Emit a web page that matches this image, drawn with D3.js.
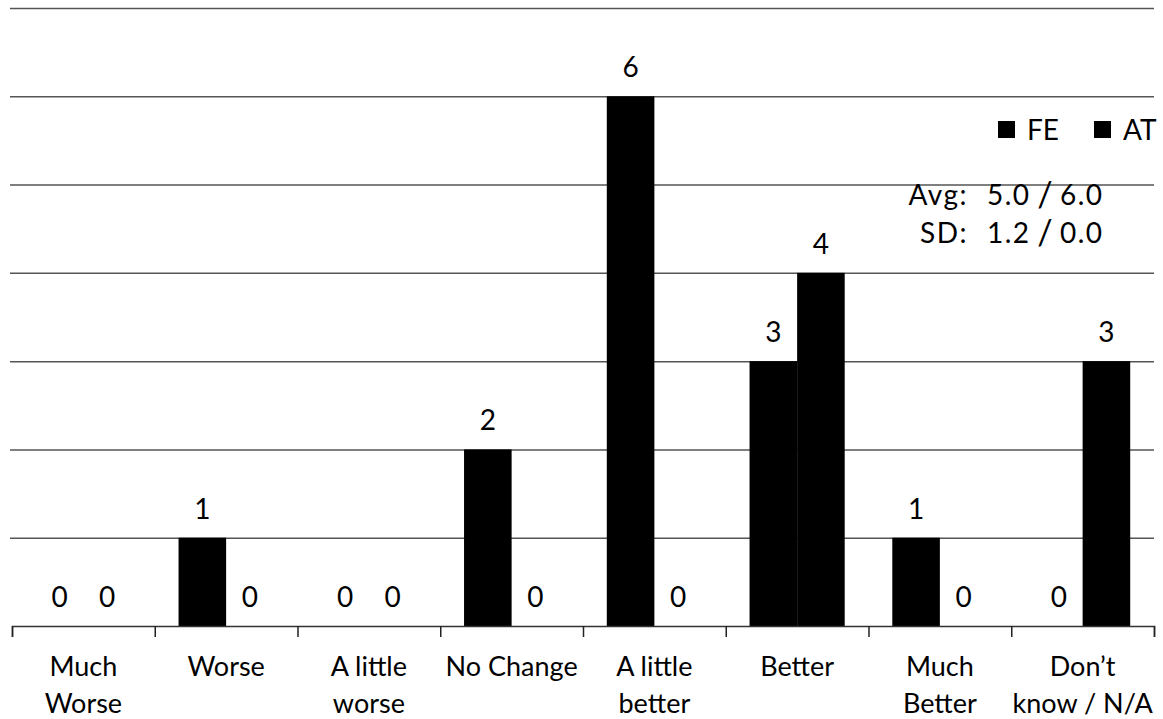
<!DOCTYPE html>
<html>
<head>
<meta charset="utf-8">
<script src="https://cdn.jsdelivr.net/npm/d3@7"></script>
<style>
	body { margin: 0; background: #fff; }
	text { font-family: Lato, "Open Sans", sans-serif; fill: #000; }
</style>
</head>
<body>
<div id="chart"></div>
<script>

// data
const categories = ['Much\nWorse', 'Worse', 'A little\nworse', 'No Change', 'A little\nbetter', 'Better', 'Much\nBetter', 'Don\u2019t\nknow / N/A'];
const series = ['FE', 'AT'];
const feValues = [0, 1, 0, 2, 6, 3, 1, 0];
const atValues = [0, 0, 0, 0, 0, 4, 0, 3];
const avgLabels = ['5.0', '6.0'];
const sdLabels = ['1.2', '0.0'];
const yTicks = [1, 2, 3, 4, 5, 6, 7];

const chartWidth = 1163;
const chartHeight = 719;
const plotLeft = 12;
const plotRight = 1154;
const plotTop = 8;
const plotBottom = 626;

const svg = d3.select('#chart')
	.append('svg')
		.attr('width', chartWidth)
		.attr('height', chartHeight);

// scales
const x0 = d3.scaleBand()
	.domain(categories)
	.range([plotLeft, plotRight])
	.padding(0);

const x1 = d3.scaleBand()
	.domain(series)
	.range([0, x0.bandwidth()])
	.paddingInner(0)
	.paddingOuter(0.5);

const y = d3.scaleLinear()
	.domain([0, 7])
	.range([plotBottom, plotTop]);

const xEdge = d3.scaleLinear()
	.domain([0, categories.length])
	.range([plotLeft, plotRight]);

// gridlines
const grid = svg.append('g')
	.attr('class', 'grid')
	.attr('transform', `translate(${plotRight}, 0)`)
	.call(d3.axisLeft(y)
		.tickValues(yTicks)
		.tickSize(plotRight - 10)
		.tickFormat(''));
grid.select('.domain').remove();
grid.selectAll('.tick line')
	.attr('stroke', '#555')
	.attr('stroke-width', 1.5);

// bars
const rows = categories.map((c, i) => ({ cat: c, values: [
	{ key: 'FE', value: feValues[i] },
	{ key: 'AT', value: atValues[i] }
] }));

const groups = svg.append('g')
	.selectAll('g')
	.data(rows)
	.join('g')
		.attr('transform', d => `translate(${x0(d.cat)}, 0)`);

groups.selectAll('rect')
	.data(d => d.values)
	.join('rect')
		.attr('x', d => x1(d.key))
		.attr('y', d => y(d.value))
		.attr('width', x1.bandwidth())
		.attr('height', d => y(0) - y(d.value))
		.attr('fill', '#000');

groups.selectAll('text')
	.data(d => d.values)
	.join('text')
		.attr('x', d => x1(d.key) + x1.bandwidth() / 2)
		.attr('y', d => y(d.value) - 19)
		.attr('text-anchor', 'middle')
		.attr('font-size', 28)
		.text(d => d.value);

// x axis with ticks at the category edges
const xAxis = svg.append('g')
	.attr('transform', `translate(0, ${plotBottom})`)
	.call(d3.axisBottom(xEdge)
		.tickValues(d3.range(categories.length + 1))
		.tickSizeOuter(0)
		.tickSize(11)
		.tickFormat(''));
xAxis.select('.domain').attr('stroke', '#333').attr('stroke-width', 1.5);
xAxis.selectAll('.tick line').attr('stroke', '#222').attr('stroke-width', 1.5);

// category labels
const labels = svg.append('g')
	.attr('transform', `translate(0, ${plotBottom})`)
	.call(d3.axisBottom(x0).tickSize(0).tickFormat(''));
labels.select('.domain').remove();

labels.selectAll('.tick')
	.append('text')
		.attr('text-anchor', 'middle')
		.attr('font-size', 27)
		.selectAll('tspan')
		.data(d => d.split('\n'))
		.join('tspan')
			.attr('x', 0)
			.attr('y', (d, i) => 50 + i * 37)
			.text(d => d);

// legend
const legend = svg.append('g');
const legendX = [998, 1094];
series.forEach((s, i) => {
	legend.append('rect')
		.attr('x', legendX[i])
		.attr('y', 121)
		.attr('width', 17)
		.attr('height', 17)
		.attr('fill', '#000');
	legend.append('text')
		.attr('x', legendX[i] + 29)
		.attr('y', 140)
		.attr('font-size', 28)
		.text(s);
});

// stats
const stats = [['Avg:', avgLabels, 205], ['SD:', sdLabels, 243]];
stats.forEach(([name, vals, yy]) => {
	svg.append('text')
		.attr('x', 968)
		.attr('y', yy)
		.attr('text-anchor', 'end')
		.attr('font-size', 28)
		.attr('letter-spacing', 1.5)
		.text(name);
	svg.append('text')
		.attr('x', 987)
		.attr('y', yy)
		.attr('font-size', 28)
		.attr('letter-spacing', 1.5)
		.text(vals[0]);
	svg.append('text')
		.attr('x', 1045)
		.attr('y', yy + 2)
		.attr('text-anchor', 'middle')
		.attr('font-size', 34)
		.text('/');
	svg.append('text')
		.attr('x', 1060)
		.attr('y', yy)
		.attr('font-size', 28)
		.attr('letter-spacing', 1.5)
		.text(vals[1]);
});

</script>
</body>
</html>
